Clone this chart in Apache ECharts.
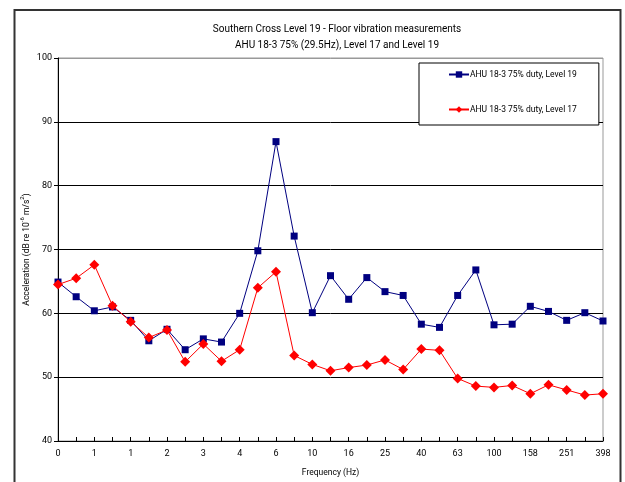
<!DOCTYPE html>
<html>
<head>
<meta charset="utf-8">
<script src="https://cdn.jsdelivr.net/npm/echarts@6/dist/echarts.min.js"></script>
<style>
  html, body { margin: 0; padding: 0; background: #fff; }
  #chart { width: 625px; height: 482px; }
</style>
</head>
<body>
<div id="chart"></div>
<script>
// One-third octave band centre frequencies (Hz), shown rounded to whole numbers
const frequencies = ['0', '1', '1', '1', '1', '1', '2', '2', '3', '3', '4', '5', '6', '8',
  '10', '13', '16', '20', '25', '32', '40', '50', '63', '79', '100', '126', '158', '200',
  '251', '316', '398'];

// Acceleration levels, dB re 10^-6 m/s^2
const level19 = [64.9, 62.6, 60.4, 61.0, 58.9, 55.7, 57.5, 54.3, 56.0, 55.5, 60.0, 69.8,
  86.9, 72.1, 60.1, 65.9, 62.2, 65.6, 63.4, 62.8, 58.3, 57.8, 62.8, 66.8, 58.2, 58.3,
  61.1, 60.3, 58.9, 60.1, 58.8];
const level17 = [64.5, 65.5, 67.6, 61.2, 58.7, 56.2, 57.4, 52.4, 55.2, 52.5, 54.3, 64.0,
  66.5, 53.4, 52.0, 51.0, 51.5, 51.9, 52.7, 51.2, 54.4, 54.2, 49.8, 48.6, 48.4, 48.7,
  47.4, 48.8, 48.0, 47.2, 47.4];

const seriesNames = ['AHU 18-3 75% duty, Level 19', 'AHU 18-3 75% duty, Level 17'];
const titleLines = ['Southern Cross Level 19 - Floor vibration measurements',
  'AHU 18-3 75% (29.5Hz), Level 17 and Level 19'];

const FONT = 'Roboto, Lato, sans-serif';

const chart = echarts.init(document.getElementById('chart'), null, { renderer: 'canvas' });

chart.setOption({
  animation: false,
  backgroundColor: '#fff',
  textStyle: { fontFamily: FONT, color: '#000' },
  title: {
    text: titleLines.join('\n'),
    left: 332,
    top: 16,
    textAlign: 'center',
    textStyle: { fontFamily: FONT, fontSize: 10, fontWeight: 'normal', lineHeight: 16, color: '#000' }
  },
  graphic: [{
    type: 'rect',
    shape: { x: 14.5, y: 10, width: 606, height: 490 },
    style: { fill: null, stroke: '#333', lineWidth: 2 },
    silent: true,
    z: -1
  }],
  legend: {
    orient: 'vertical',
    left: 419,
    top: 63,
    padding: [7, 22, 11, 29],
    itemGap: 26,
    itemWidth: 20,
    itemHeight: 8,
    borderColor: '#000',
    borderWidth: 1,
    backgroundColor: '#fff',
    textStyle: { fontFamily: FONT, fontSize: 8.5, color: '#000', padding: [0, 0, 0, -4] },
    data: seriesNames
  },
  grid: {
    left: 58,
    top: 58,
    right: 22,
    bottom: 39,
    show: true,
    borderColor: '#999',
    borderWidth: 1,
    backgroundColor: 'transparent'
  },
  xAxis: {
    type: 'category',
    data: frequencies,
    boundaryGap: false,
    name: 'Frequency (Hz)',
    nameLocation: 'middle',
    nameGap: 27,
    nameTextStyle: { fontFamily: FONT, fontSize: 8.5, color: '#000' },
    axisLine: { lineStyle: { color: '#000', width: 1 } },
    axisTick: { show: true, inside: true, length: 4, interval: 0, lineStyle: { color: '#000' } },
    axisLabel: { interval: 1, fontFamily: FONT, fontSize: 9, color: '#000', margin: 8 },
    splitLine: { show: false }
  },
  yAxis: {
    type: 'value',
    min: 40,
    max: 100,
    interval: 10,
    name: '{a|Acceleration (dB re 10}{s|-6}{a| m/s}{s|2}{a|)}',
    nameLocation: 'middle',
    nameGap: 27,
    nameMoveOverlap: false,
    nameRotate: 90,
    nameTextStyle: {
      rich: {
        a: { fontFamily: FONT, fontSize: 8.5, color: '#000', lineHeight: 12, verticalAlign: 'bottom' },
        s: { fontFamily: FONT, fontSize: 6, color: '#000', lineHeight: 12, verticalAlign: 'top' }
      }
    },
    axisLine: { show: true, lineStyle: { color: '#000', width: 1 } },
    axisTick: { show: true, inside: false, length: 4, lineStyle: { color: '#000' } },
    axisLabel: { fontFamily: FONT, fontSize: 9, color: '#000', margin: 6 },
    splitLine: { show: true, lineStyle: { color: ['#000', '#000', '#000', '#000', '#000', '#000', '#999'], width: 1 } }
  },
  series: [
    {
      name: seriesNames[0],
      type: 'line',
      data: level19,
      symbol: 'rect',
      symbolSize: 7,
      lineStyle: { color: '#000080', width: 1 },
      itemStyle: { color: '#000080' },
      z: 3
    },
    {
      name: seriesNames[1],
      type: 'line',
      data: level17,
      symbol: 'diamond',
      symbolSize: 10,
      lineStyle: { color: '#ff0000', width: 1 },
      itemStyle: { color: '#ff0000' },
      z: 4
    }
  ]
});
</script>
</body>
</html>
